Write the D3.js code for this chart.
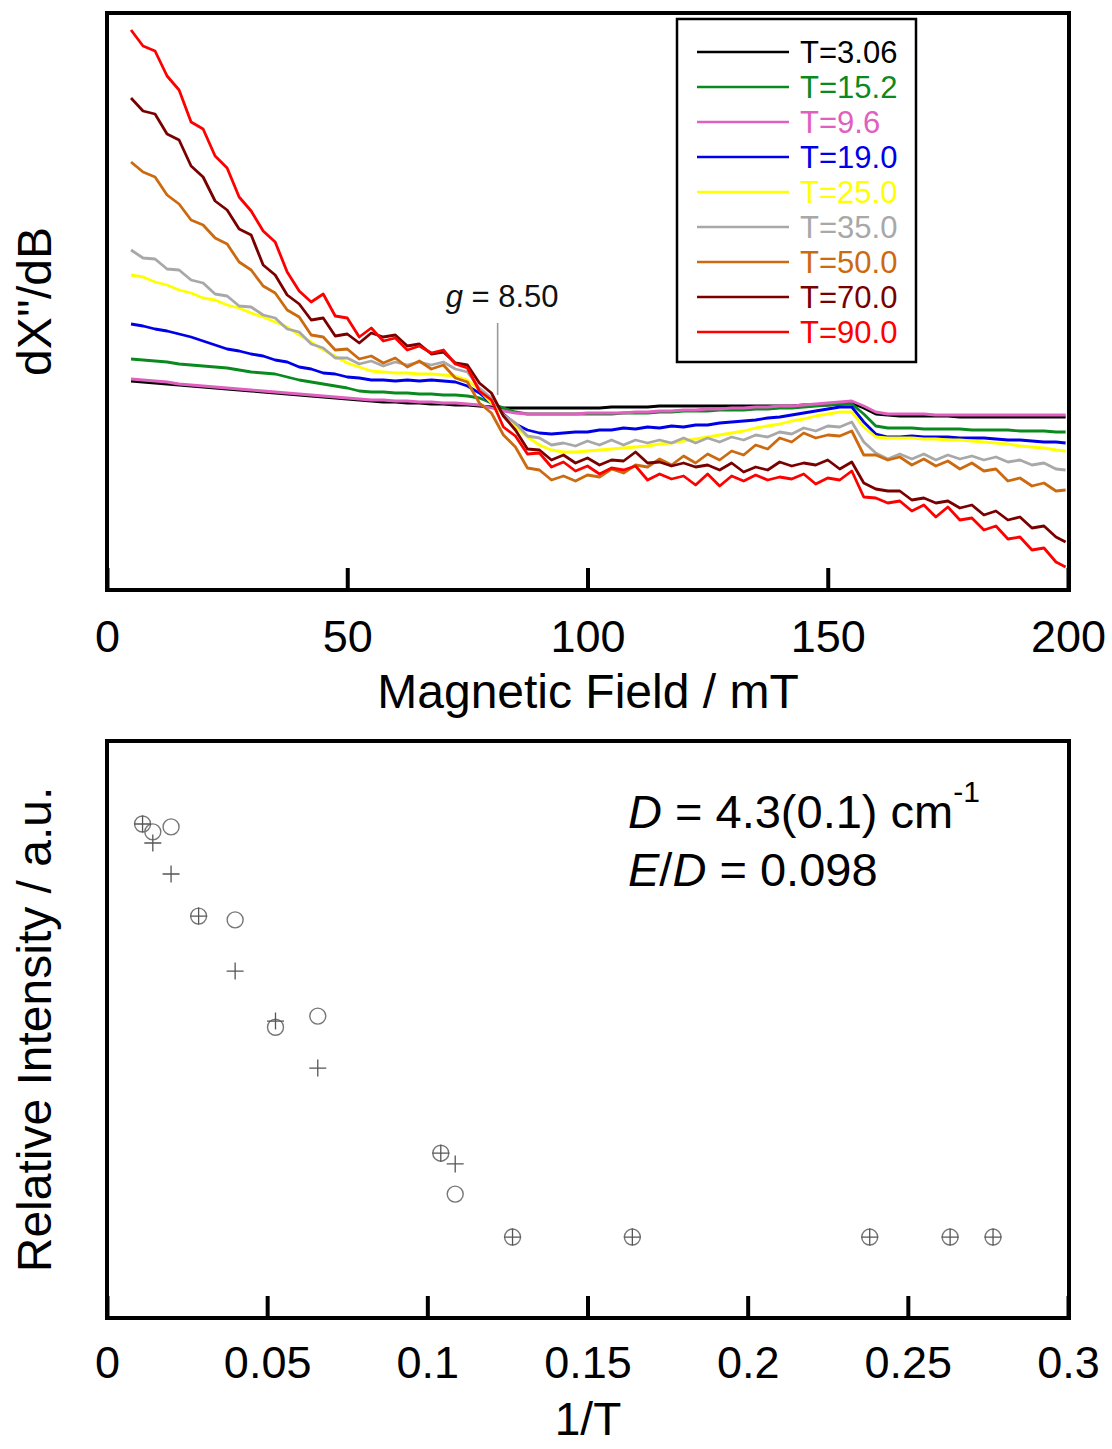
<!DOCTYPE html>
<html>
<head>
<meta charset="utf-8">
<script src="https://d3js.org/d3.v7.min.js"></script>
<style>
  body { margin: 0; background: #fff; }
  text { font-family: "Liberation Sans", Arial, sans-serif; }
</style>
</head>
<body>
<div class="chart"></div>
<script>
// ---------- data: EPR spectra (top panel) ----------
// magnetic field grid, mT
var field = [
  5, 7.5, 10, 12.5, 15, 17.5, 20, 22.5, 25, 27.5,
  30, 32.5, 35, 37.5, 40, 42.5, 45, 47.5, 50, 52.5,
  55, 57.5, 60, 62.5, 65, 67.5, 70, 72.5, 75, 77.5,
  80, 82.5, 85, 87.5, 90, 92.5, 95, 97.5, 100, 102.5,
  105, 107.5, 110, 112.5, 115, 117.5, 120, 122.5, 125, 127.5,
  130, 132.5, 135, 137.5, 140, 142.5, 145, 147.5, 150, 152.5,
  155, 157.5, 160, 162.5, 165, 167.5, 170, 172.5, 175, 177.5,
  180, 182.5, 185, 187.5, 190, 192.5, 195, 197.5, 199.5
];

var temps = ["T=3.06", "T=15.2", "T=9.6", "T=19.0", "T=25.0", "T=35.0", "T=50.0", "T=70.0", "T=90.0"];
var colors = ["#000000", "#0a8a1e", "#e060c0", "#0000e8", "#ffff00", "#a8a8a8", "#cc6a10", "#7a0000", "#ff0000"];

// dX''/dB, arbitrary units
var sig306 = [
  27, 26, 25, 24, 23, 22, 21, 20, 19, 18,
  17, 16, 15, 14, 13, 12, 11, 10, 9, 8,
  7, 6, 6, 5, 5, 4, 4, 3, 3, 2,
  1, 0, 0, 0, 0, 0, 0, 0, 0, 0,
  1, 1, 1, 1, 2, 2, 2, 2, 2, 2,
  2, 2, 2, 2, 2, 2, 3, 3, 3, 4,
  5, 0, -6, -7, -8, -8, -8, -8, -8, -9,
  -9, -9, -9, -9, -9, -9, -9, -9, -9
];
var sig152 = [
  49, 48, 47, 46, 44, 43, 42, 41, 40, 38,
  36, 35, 34, 31, 28, 26, 24, 22, 20, 17,
  16, 16, 15, 15, 14, 14, 13, 13, 12, 10,
  5, 0, -4, -6, -6, -6, -6, -6, -6, -6,
  -6, -5, -5, -5, -4, -4, -3, -3, -3, -2,
  -2, -2, -1, -1, 0, 0, 1, 2, 3, 4,
  4, -6, -18, -20, -20, -20, -21, -21, -21, -21,
  -22, -22, -22, -22, -23, -23, -23, -24, -24
];
var sig96 = [
  29, 28, 27, 26, 24, 23, 22, 21, 20, 19,
  18, 17, 16, 15, 14, 13, 12, 11, 10, 9,
  8, 8, 7, 7, 6, 6, 5, 5, 4, 3,
  0, -3, -5, -6, -6, -6, -6, -6, -5, -5,
  -5, -5, -4, -4, -3, -3, -2, -2, -1, -1,
  0, 0, 1, 1, 2, 2, 3, 4, 5, 6,
  7, 2, -4, -6, -6, -6, -6, -7, -7, -7,
  -7, -7, -7, -7, -7, -7, -7, -7, -7
];
var sig190 = [
  84, 82, 79, 77, 74, 71, 67, 63, 59, 57,
  54, 52, 48, 46, 41, 39, 35, 34, 31, 30,
  28, 28, 27, 28, 27, 28, 27, 26, 22, 15,
  5, -6, -16, -22, -25, -26, -25, -24, -24, -22,
  -22, -20, -21, -19, -20, -18, -19, -17, -17, -15,
  -14, -13, -12, -10, -9, -7, -5, -3, -1, 1,
  1, -14, -26, -29, -29, -28, -29, -29, -29, -30,
  -30, -30, -31, -32, -32, -33, -34, -34, -35
];
var sig250 = [
  133, 131, 126, 123, 118, 115, 110, 108, 103, 100,
  95, 91, 86, 81, 73, 66, 58, 52, 45, 41,
  37, 36, 35, 35, 34, 34, 33, 32, 28, 18,
  5, -7, -19, -29, -37, -42, -44, -44, -43, -42,
  -41, -40, -39, -38, -36, -35, -33, -31, -29, -27,
  -25, -23, -20, -18, -16, -13, -11, -8, -6, -4,
  -4, -19, -29, -30, -30, -30, -31, -31, -32, -32,
  -33, -34, -35, -36, -38, -39, -40, -42, -43
];
var sig350 = [
  158, 150, 149, 139, 138, 128, 125, 114, 112, 102,
  101, 93, 90, 79, 76, 64, 60, 50, 50, 44,
  47, 42, 46, 43, 46, 43, 46, 39, 36, 20,
  10, -7, -15, -28, -30, -37, -35, -38, -33, -37,
  -32, -37, -32, -35, -32, -35, -30, -35, -30, -34,
  -29, -32, -27, -29, -24, -26, -20, -23, -18, -19,
  -14, -34, -45, -51, -46, -51, -46, -52, -47, -51,
  -48, -52, -49, -54, -52, -57, -55, -61, -62
];
var sig500 = [
  246, 236, 231, 213, 204, 188, 183, 170, 164, 146,
  138, 122, 115, 98, 91, 73, 71, 58, 59, 49,
  52, 45, 50, 41, 47, 39, 43, 30, 26, 5,
  -5, -27, -39, -60, -62, -72, -68, -73, -67, -69,
  -61, -65, -57, -59, -51, -57, -48, -55, -46, -52,
  -43, -47, -37, -41, -30, -34, -25, -30, -27, -28,
  -23, -47, -47, -52, -49, -57, -51, -58, -53, -61,
  -55, -63, -61, -73, -70, -78, -75, -83, -82
];
var sig700 = [
  310, 297, 294, 274, 268, 242, 231, 207, 198, 179,
  173, 143, 133, 113, 104, 88, 90, 72, 74, 65,
  75, 71, 73, 62, 64, 54, 56, 45, 43, 25,
  15, -8, -22, -41, -42, -52, -47, -55, -50, -57,
  -52, -53, -44, -55, -54, -58, -55, -59, -57, -62,
  -55, -64, -59, -62, -54, -58, -55, -57, -52, -61,
  -54, -75, -81, -83, -83, -92, -90, -95, -93, -100,
  -97, -107, -103, -112, -109, -120, -118, -129, -134
];
var sig900 = [
  378, 362, 357, 332, 318, 286, 279, 252, 240, 211,
  197, 177, 166, 136, 117, 106, 114, 92, 90, 71,
  80, 67, 70, 58, 62, 55, 58, 44, 40, 17,
  8, -19, -28, -46, -45, -59, -54, -63, -58, -66,
  -60, -62, -58, -72, -66, -71, -68, -77, -66, -78,
  -68, -73, -67, -72, -69, -71, -66, -76, -70, -72,
  -63, -89, -90, -95, -93, -103, -97, -109, -99, -112,
  -110, -122, -118, -131, -129, -142, -140, -154, -159
];
var spectra = [sig306, sig152, sig96, sig190, sig250, sig350, sig500, sig700, sig900];

// g = 8.50 marker: field and signal span of the guide line
var gField = 81.3;
var gSpan = [13, 85];

var fieldTicks = [0, 50, 100, 150, 200];

// ---------- data: relative intensity vs 1/T (bottom panel) ----------
var invT = [0.0111, 0.0143, 0.0200, 0.0286, 0.0400, 0.0526, 0.0658, 0.1042, 0.1087, 0.1266, 0.1640, 0.2381, 0.2632, 0.2766];
var intensCircle = [1.000, 0.981, 0.993, 0.777, 0.768, 0.508, 0.535, 0.203, 0.104, 0, 0, 0, 0, 0];
var intensPlus = [1.000, 0.954, 0.879, 0.777, 0.644, 0.523, 0.409, 0.203, 0.177, 0, 0, 0, 0, 0];
var invTTicks = [0, 0.05, 0.1, 0.15, 0.2, 0.25, 0.3];

// ---------- layout ----------
var svgWidth = 1112;
var svgHeight = 1449;
var left = 107, right = 1069;
var top1 = 13, bottom1 = 590;
var top2 = 741, bottom2 = 1318;

var svg = d3.select(".chart")
  .append("svg")
  .attr("width", svgWidth)
  .attr("height", svgHeight);

// ================= top panel =================
var xField = d3.scaleLinear().domain([0, 200]).range([left, 1068]);
var ySig = d3.scaleLinear().domain([-182, 395]).range([bottom1, top1]);

svg.append("clipPath").attr("id", "clip1")
  .append("rect")
  .attr("x", left).attr("y", top1)
  .attr("width", right - left).attr("height", bottom1 - top1);

var line = d3.line()
  .x(d => xField(d[0]))
  .y(d => ySig(d[1]));

var curves = svg.append("g").attr("clip-path", "url(#clip1)");
spectra.forEach(function (vals, i) {
  var pts = field.map((b, j) => [b, vals[j]]).filter(d => d[1] !== undefined);
  curves.append("path")
    .datum(pts)
    .attr("d", line)
    .attr("fill", "none")
    .attr("stroke", colors[i])
    .attr("stroke-width", 2.8)
    .attr("stroke-linejoin", "round");
});

// g marker
svg.append("line")
  .attr("x1", xField(gField)).attr("x2", xField(gField))
  .attr("y1", ySig(gSpan[0])).attr("y2", ySig(gSpan[1]))
  .attr("stroke", "#999")
  .attr("stroke-width", 1.6);

var gText = svg.append("text")
  .attr("x", xField(gField) - 52)
  .attr("y", ySig(gSpan[1]) - 16)
  .attr("font-size", "31px")
  .attr("fill", "#111");
gText.append("tspan").attr("font-style", "italic").text("g");
gText.append("tspan").text(" = 8.50");

// bottom axis, inward ticks
var axis1 = svg.append("g")
  .attr("transform", `translate(0, ${bottom1})`)
  .call(d3.axisBottom(xField).tickValues(fieldTicks).tickSize(-22).tickPadding(30).tickFormat(d3.format("d")));
axis1.select(".domain").remove();
axis1.selectAll(".tick line").attr("stroke", "#000").attr("stroke-width", 4);
axis1.selectAll(".tick text").attr("font-size", "45px").attr("fill", "#000")
  .attr("font-family", "'Liberation Sans', Arial, sans-serif");

// frame
svg.append("rect")
  .attr("x", left).attr("y", top1)
  .attr("width", right - left).attr("height", bottom1 - top1)
  .attr("fill", "none").attr("stroke", "#000").attr("stroke-width", 4);

// axis titles
svg.append("text")
  .attr("x", (left + right) / 2)
  .attr("y", 708)
  .attr("text-anchor", "middle")
  .attr("font-size", "48px")
  .text("Magnetic Field / mT");

svg.append("text")
  .attr("transform", `translate(51, ${(top1 + bottom1) / 2}) rotate(-90)`)
  .attr("text-anchor", "middle")
  .attr("font-size", "48px")
  .text("dX''/dB");

// legend
var legend = svg.append("g").attr("transform", "translate(677, 19)");
legend.append("rect")
  .attr("width", 239).attr("height", 343)
  .attr("fill", "#fff").attr("stroke", "#000").attr("stroke-width", 2.5);
temps.forEach(function (t, i) {
  var yy = 33 + i * 35;
  legend.append("line")
    .attr("x1", 20).attr("x2", 112)
    .attr("y1", yy).attr("y2", yy)
    .attr("stroke", colors[i]).attr("stroke-width", 2.6);
  legend.append("text")
    .attr("x", 123).attr("y", yy + 11)
    .attr("font-size", "31px")
    .attr("fill", colors[i])
    .text(t);
});

// ================= bottom panel =================
var xInv = d3.scaleLinear().domain([0, 0.3]).range([left, 1068]);
var yInt = d3.scaleLinear().domain([-0.196, 1.201]).range([bottom2, top2]);

var marks = svg.append("g");
marks.selectAll("circle")
  .data(invT)
  .enter()
  .append("circle")
  .attr("cx", d => xInv(d))
  .attr("cy", (d, i) => yInt(intensCircle[i]))
  .attr("r", 8)
  .attr("fill", "none")
  .attr("stroke", "#777")
  .attr("stroke-width", 1.4);

var plusSize = 8.5;
marks.selectAll("path.plus")
  .data(invT)
  .enter()
  .append("path")
  .attr("class", "plus")
  .attr("d", function (d, i) {
    var cx = xInv(d), cy = yInt(intensPlus[i]);
    return `M${cx - plusSize},${cy}H${cx + plusSize}M${cx},${cy - plusSize}V${cy + plusSize}`;
  })
  .attr("fill", "none")
  .attr("stroke", "#555")
  .attr("stroke-width", 1.3);

var axis2 = svg.append("g")
  .attr("transform", `translate(0, ${bottom2})`)
  .call(d3.axisBottom(xInv).tickValues(invTTicks).tickSize(-22).tickPadding(28).tickFormat(d => d === 0 ? "0" : String(+d.toFixed(2))));
axis2.select(".domain").remove();
axis2.selectAll(".tick line").attr("stroke", "#000").attr("stroke-width", 4);
axis2.selectAll(".tick text").attr("font-size", "45px").attr("fill", "#000")
  .attr("font-family", "'Liberation Sans', Arial, sans-serif");

svg.append("rect")
  .attr("x", left).attr("y", top2)
  .attr("width", right - left).attr("height", bottom2 - top2)
  .attr("fill", "none").attr("stroke", "#000").attr("stroke-width", 4);

svg.append("text")
  .attr("x", (left + right) / 2)
  .attr("y", 1435)
  .attr("text-anchor", "middle")
  .attr("font-size", "46px")
  .text("1/T");

svg.append("text")
  .attr("transform", `translate(51, ${(top2 + bottom2) / 2}) rotate(-90)`)
  .attr("text-anchor", "middle")
  .attr("font-size", "48px")
  .text("Relative Intensity / a.u.");

// fit parameters
var t1 = svg.append("text").attr("x", 628).attr("y", 828).attr("font-size", "47px");
t1.append("tspan").attr("font-style", "italic").text("D");
t1.append("tspan").text(" = 4.3(0.1) cm");
t1.append("tspan").attr("font-size", "30px").attr("dy", -26).text("-1");

var t2 = svg.append("text").attr("x", 628).attr("y", 886).attr("font-size", "47px");
t2.append("tspan").attr("font-style", "italic").text("E");
t2.append("tspan").text("/");
t2.append("tspan").attr("font-style", "italic").text("D");
t2.append("tspan").text(" = 0.098");
</script>
</body>
</html>
